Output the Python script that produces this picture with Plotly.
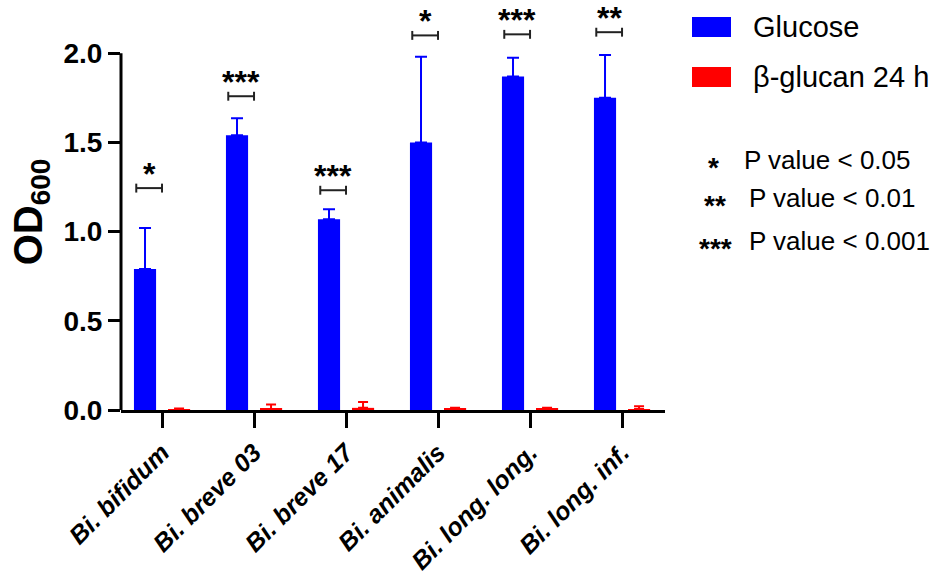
import plotly.graph_objects as go

categories = ["Bi. bifidum", "Bi. breve 03", "Bi. breve 17", "Bi. animalis", "Bi. long. long.", "Bi. long. inf."]
glucose = [0.79, 1.54, 1.07, 1.50, 1.87, 1.75]
glucose_err = [0.23, 0.095, 0.055, 0.48, 0.105, 0.24]
bglucan = [0.005, 0.006, 0.012, 0.007, 0.009, 0.005]
bglucan_err = [0.003, 0.025, 0.033, 0.006, 0.004, 0.016]
sig_labels = ["*", "***", "***", "*", "***", "**"]
sig_bracket_y = [1.244, 1.759, 1.232, 2.10, 2.106, 2.118]
yticks = [0.0, 0.5, 1.0, 1.5, 2.0]
ytick_text = ["0.0", "0.5", "1.0", "1.5", "2.0"]
pval_symbols = ["*", "**", "***"]
pval_text = ["P value < 0.05", "P value < 0.01", "P value < 0.001"]
series_names = ["Glucose", "β-glucan 24 h"]
colors = ["#0000FF", "#FF0000"]

FONT = "Liberation Sans, Arial, sans-serif"
OFF = 0  # page body margin removed via post_script
W, H = 943 - OFF, 577 - OFF
# plot area in page pixels: x 121..665, y 14..410
ML, MT = 121 - OFF, 14 - OFF
MR = W - (665 - OFF)
MB = H - (410 - OFF)
PW, PH = W - ML - MR, H - MT - MB

def px(x):
    return (x - OFF - ML) / PW

def py(y):
    return (H - MB - (y - OFF)) / PH

fig = go.Figure()
fig.add_trace(go.Bar(
    x=categories, y=glucose, name=series_names[0], marker_color=colors[0],
    marker_line_width=0,
    error_y=dict(type="data", array=glucose_err, arrayminus=[0]*len(glucose_err),
                 symmetric=False, color=colors[0], thickness=2, width=6),
))
fig.add_trace(go.Bar(
    x=categories, y=bglucan, name=series_names[1], marker_color=colors[1],
    marker_line_width=0,
    error_y=dict(type="data", array=bglucan_err, arrayminus=[0]*len(bglucan_err),
                 symmetric=False, color=colors[1], thickness=2, width=5),
))

shapes = []
annotations = []
# y-axis line only up to 2.0
shapes.append(dict(type="line", xref="paper", yref="y", x0=0, x1=0, y0=0, y1=2.0,
                   line=dict(color="black", width=3)))
# significance brackets
cap = 0.025
for i, (lab, yb) in enumerate(zip(sig_labels, sig_bracket_y)):
    x0, x1 = i - 0.28, i + 0.0
    shapes.append(dict(type="line", xref="x", yref="y", x0=x0, x1=x1, y0=yb, y1=yb,
                       line=dict(color="#222222", width=2)))
    for xx in (x0, x1):
        shapes.append(dict(type="line", xref="x", yref="y", x0=xx, x1=xx, y0=yb - cap, y1=yb + cap,
                           line=dict(color="#222222", width=2)))
    annotations.append(dict(x=(x0 + x1) / 2, y=yb, xref="x", yref="y", text=lab, showarrow=False,
                            yanchor="bottom", yshift=-6,
                            font=dict(family=FONT, size=32, color="black", weight="bold")))

# custom legend
leg_y = [27, 77]
for name, col, yc in zip(series_names, colors, leg_y):
    shapes.append(dict(type="rect", xref="paper", yref="paper", x0=px(692), x1=px(731),
                       y0=py(yc - 10), y1=py(yc + 10), fillcolor=col, line_width=0))
    annotations.append(dict(x=px(751), y=py(yc), xref="paper", yref="paper", text=name,
                            showarrow=False, xanchor="left", yanchor="middle",
                            font=dict(family=FONT, size=29, color="black")))

pv_y = [160, 198, 241]
pv_sym_x = [713, 715, 715]
pv_txt_x = [742, 747, 747]
for sym, txt, yc, sx, tx in zip(pval_symbols, pval_text, pv_y, pv_sym_x, pv_txt_x):
    annotations.append(dict(x=px(sx), y=py(yc), xref="paper", yref="paper", text=sym,
                            showarrow=False, xanchor="center", yanchor="middle", yshift=-7,
                            font=dict(family=FONT, size=28, color="black", weight="bold")))
    annotations.append(dict(x=px(tx), y=py(yc), xref="paper", yref="paper", text=txt,
                            showarrow=False, xanchor="left", yanchor="middle",
                            font=dict(family=FONT, size=26, color="black")))

fig.update_layout(
    width=W, height=H,
    margin=dict(l=ML, r=MR, t=MT, b=MB, pad=0),
    paper_bgcolor="white", plot_bgcolor="white",
    barmode="group", bargap=0.26, bargroupgap=0.35,
    showlegend=False,
    shapes=shapes, annotations=annotations,
    font=dict(family=FONT, color="black"),
)
fig.update_xaxes(
    range=[-0.446, 5.467], showline=True, linewidth=3, linecolor="black",
    ticks="outside", ticklen=15, tickwidth=3, tickcolor="black",
    tickangle=-45, showgrid=False, zeroline=False, automargin=False,
    tickfont=dict(family=FONT, size=25, color="black", weight="bold", style="italic"),
)
fig.update_yaxes(
    range=[0, 2.22], showline=False, tickvals=yticks, ticktext=ytick_text,
    ticks="outside", ticklen=12, tickwidth=3, tickcolor="black",
    showgrid=False, zeroline=False, automargin=False,
    tickfont=dict(family=FONT, size=28, color="black", weight="bold"),
    title=dict(text="OD<sub>600</sub>", font=dict(family=FONT, size=40, color="black", weight="bold"),
               standoff=8),
)

fig.write_html("out.html", config={"displayModeBar": False},
               post_script="document.body.style.margin='0';document.body.style.overflow='hidden';")
